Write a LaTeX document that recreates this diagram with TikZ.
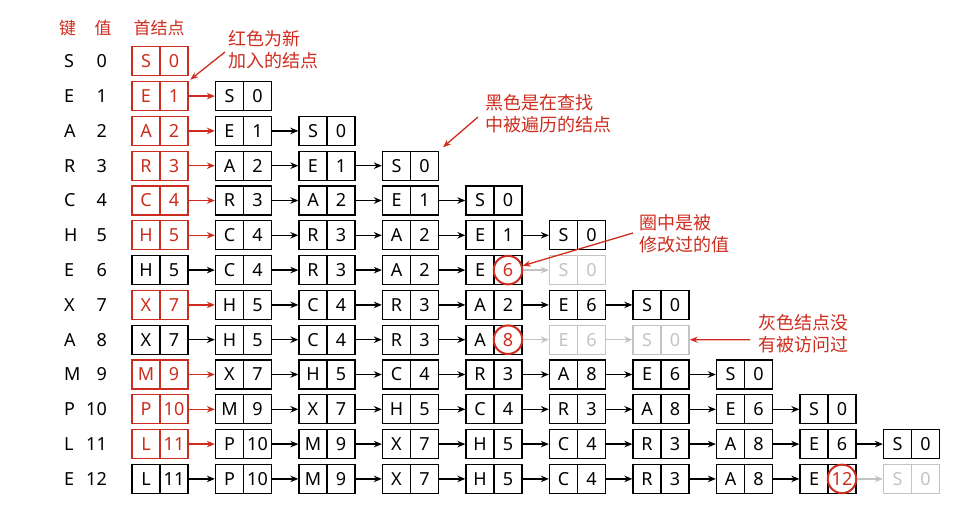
\documentclass[tikz,border=0pt]{standalone}
\usepackage{fontspec}
\setmainfont{Noto Sans}
\newfontfamily\cjk{Noto Sans CJK SC}
\usetikzlibrary{arrows.meta}
\definecolor{myred}{RGB}{205,45,30}
\definecolor{mygray}{RGB}{195,195,195}
\def\tmpc{c}
\begin{document}
\begin{tikzpicture}[x=1pt,y=-1pt,
  cell/.style={draw, minimum width=28pt, minimum height=29pt, inner sep=0pt,
    line width=1.3pt, font=\fontsize{18}{18}\selectfont, text height=12.9pt, text depth=0pt},
  ckr/.style={draw=myred,text=myred}, cvr/.style={draw=myred,text=myred},
  ckb/.style={}, cvb/.style={}, ckc/.style={}, cvc/.style={},
  ckg/.style={draw=mygray,text=mygray}, cvg/.style={draw=mygray,text=mygray},
  circ/.style={circle, draw=myred, line width=2pt, minimum size=28.5pt, inner sep=0pt,
    fill=white, text=myred, font=\fontsize{18}{18}\selectfont, text height=12.9pt, text depth=0pt},
  conn/.style={line width=1.3pt, -{Stealth[length=8pt,width=6.5pt]}},
  fromr/.style={draw=myred}, fromb/.style={}, fromc/.style={}, fromg/.style={},
  tor/.style={}, tob/.style={}, toc/.style={}, tog/.style={draw=mygray},
  lbl/.style={font=\fontsize{18}{18}\selectfont, text height=12.9pt, text depth=0pt, inner sep=0pt},
  hdr/.style={font=\cjk\fontsize{17}{17}\selectfont, text=myred, inner sep=0pt},
  note/.style={font=\cjk\fontsize{18}{22}\selectfont, text=myred, align=left, anchor=north west, inner sep=0pt},
  notearr/.style={draw=myred, line width=1.3pt, -{Stealth[length=8pt,width=6pt]}}
]
\useasboundingbox (0,0) rectangle (980,514);

% header
\node[hdr] (h1) at (67.5,28) {键};
\node[hdr] (h2) at (103,28) {值};
\node[hdr] (h3) at (159,28) {首结点};

% key/value labels
\foreach \k/\v [count=\i from 0] in {S/0,E/1,A/2,R/3,C/4,H/5,E/6,X/7,A/8,M/9,P/10,L/11,E/12}{
  \pgfmathsetmacro\yy{61.3+34.8*\i}
  \node[lbl,anchor=west] (lk\i) at (64,\yy) {\k};
  \node[lbl,anchor=east] (lv\i) at (107,\yy) {\v};
}

% lists
\foreach \i/\lst in {
 0/{S/0/r},
 1/{E/1/r,S/0/b},
 2/{A/2/r,E/1/b,S/0/b},
 3/{R/3/r,A/2/b,E/1/b,S/0/b},
 4/{C/4/r,R/3/b,A/2/b,E/1/b,S/0/b},
 5/{H/5/r,C/4/b,R/3/b,A/2/b,E/1/b,S/0/b},
 6/{H/5/b,C/4/b,R/3/b,A/2/b,E/6/c,S/0/g},
 7/{X/7/r,H/5/b,C/4/b,R/3/b,A/2/b,E/6/b,S/0/b},
 8/{X/7/b,H/5/b,C/4/b,R/3/b,A/8/c,E/6/g,S/0/g},
 9/{M/9/r,X/7/b,H/5/b,C/4/b,R/3/b,A/8/b,E/6/b,S/0/b},
 10/{P/10/r,M/9/b,X/7/b,H/5/b,C/4/b,R/3/b,A/8/b,E/6/b,S/0/b},
 11/{L/11/r,P/10/b,M/9/b,X/7/b,H/5/b,C/4/b,R/3/b,A/8/b,E/6/b,S/0/b},
 12/{L/11/b,P/10/b,M/9/b,X/7/b,H/5/b,C/4/b,R/3/b,A/8/b,E/12/c,S/0/g}}{
  \foreach \k/\v/\s [count=\jj from 0] in \lst {
    \pgfmathsetmacro\xx{132+83.5*\jj}
    \pgfmathsetmacro\yy{61.3+34.8*\i}
    \edef\tmps{\s}
    \ifx\tmps\tmpc
      \node[cell,ckc] (n\i-\jj-k) at (\xx+14,\yy) {\k};
      \node[cell,cvc] (n\i-\jj-v) at (\xx+42,\yy) {};
      \node[circ] (c\i) at (n\i-\jj-v) {\v};
    \else
      \node[cell,ck\s] (n\i-\jj-k) at (\xx+14,\yy) {\k};
      \node[cell,cv\s] (n\i-\jj-v) at (\xx+42,\yy) {\v};
    \fi
    \ifnum\jj>0
      \pgfmathtruncatemacro\pj{\jj-1}
      \draw[conn,from\prevs,to\s] (n\i-\pj-v.east) -- (n\i-\jj-k.west);
    \fi
    \xdef\prevs{\s}
  }
}

% notes
\node[note] (t1) at (228,30) {红色为新\\加入的结点};
\coordinate (a1) at (225,52);
\draw[notearr, shorten >=2pt] (a1) -- (n1-0-v.north east);

\node[note] (t2) at (485,94) {黑色是在查找\\中被遍历的结点};
\coordinate (a2) at (478,117);
\draw[notearr, shorten >=5pt] (a2) -- (n3-3-v.north east);

\node[note] (t3) at (639,214) {圈中是被\\修改过的值};
\coordinate (a3) at (633,233);
\draw[notearr] (a3) -- (c6);

\node[note] (t4) at (758,314) {灰色结点没\\有被访问过};
\coordinate (a4) at (750,339.7);
\draw[notearr] (a4) -- (n8-6-v.east);
\end{tikzpicture}
\end{document}
